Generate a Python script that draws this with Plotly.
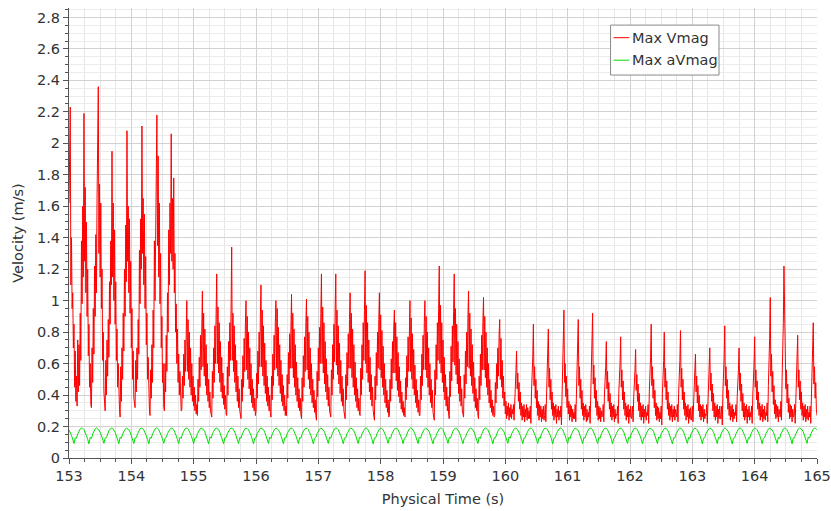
import plotly.graph_objects as go

# ---------------------------------------------------------------------------
# Max Vmag: one sub-list per pulsation cycle, each sampled every 0.01 s
# starting at the cycle's start time listed in vmag_start.
# ---------------------------------------------------------------------------
vmag_dt = 0.01
vmag_start = [
    153.00, 153.13, 153.36, 153.58, 153.82, 154.06, 154.30, 154.53,
    154.81, 155.06, 155.29, 155.53, 155.76, 156.00, 156.24, 156.49,
    156.73, 156.97, 157.20, 157.43, 157.67, 157.90, 158.14, 158.39,
    158.63, 158.86, 159.10, 159.33, 159.57, 159.83,
    160.12, 160.39, 160.63, 160.88, 161.11, 161.34, 161.56, 161.79,
    162.03, 162.28, 162.49, 162.75, 162.99, 163.22, 163.46, 163.69,
    163.94, 164.19, 164.41, 164.63, 164.88,
]
vmag_cycles = [
    [1.62, 1.95, 2.23, 1.10, 1.40, 0.95, 1.05, 0.70, 0.85, 0.45, 0.68, 0.36, 0.52],
    [0.33, 0.75, 0.42, 0.72, 0.46, 0.92, 0.62, 1.38, 0.98, 1.60, 1.15, 2.19, 1.25, 1.72, 1.05, 1.50, 0.90, 1.20, 0.65, 0.85, 0.45, 0.60, 0.34],
    [0.32, 0.70, 0.48, 0.95, 0.66, 1.22, 0.90, 1.42, 1.05, 1.65, 2.02, 2.36, 1.30, 1.74, 1.15, 1.62, 0.95, 1.20, 0.62, 0.80, 0.42, 0.34],
    [0.30, 0.62, 0.40, 0.75, 0.52, 0.88, 0.64, 1.12, 0.85, 1.38, 1.10, 1.95, 1.15, 1.62, 1.00, 1.45, 0.85, 1.12, 0.62, 0.82, 0.45, 0.60, 0.35, 0.31],
    [0.26, 0.58, 0.36, 0.70, 0.50, 0.92, 0.68, 1.20, 0.90, 1.48, 1.12, 2.08, 1.25, 1.60, 1.05, 1.52, 0.92, 1.25, 0.70, 0.95, 0.50, 0.68, 0.38, 0.34],
    [0.32, 0.62, 0.42, 0.70, 0.50, 0.88, 0.66, 1.32, 0.98, 1.52, 1.20, 2.11, 1.30, 1.65, 1.10, 1.55, 0.95, 1.28, 0.72, 0.92, 0.50, 0.64, 0.36, 0.31],
    [0.27, 0.56, 0.38, 0.72, 0.48, 0.94, 0.70, 1.38, 1.00, 1.58, 1.85, 2.18, 1.35, 1.92, 1.15, 1.62, 0.98, 1.30, 0.70, 0.90, 0.48, 0.60, 0.33],
    [0.30, 0.60, 0.42, 0.78, 0.55, 1.05, 0.80, 1.45, 1.10, 1.62, 1.30, 2.06, 1.25, 1.65, 1.20, 1.78, 1.05, 1.30, 0.80, 0.98, 0.60, 0.82, 0.48, 0.66, 0.40, 0.55, 0.34, 0.30],
    [0.31, 0.52, 0.38, 0.66, 0.46, 0.75, 0.55, 0.82, 1.00, 0.55, 0.88, 0.50, 0.80, 0.45, 0.70, 0.40, 0.60, 0.36, 0.52, 0.33, 0.45, 0.30, 0.40, 0.28, 0.34],
    [0.27, 0.50, 0.36, 0.64, 0.45, 0.78, 0.56, 0.88, 1.06, 0.58, 0.92, 0.52, 0.82, 0.46, 0.72, 0.40, 0.60, 0.36, 0.50, 0.32, 0.42, 0.30, 0.28],
    [0.26, 0.55, 0.38, 0.70, 0.48, 0.84, 0.60, 0.92, 1.17, 0.60, 0.96, 0.54, 0.86, 0.48, 0.74, 0.42, 0.64, 0.38, 0.54, 0.34, 0.46, 0.31, 0.40, 0.28],
    [0.27, 0.58, 0.40, 0.74, 0.52, 0.86, 0.62, 0.95, 1.34, 0.62, 0.92, 0.55, 0.84, 0.48, 0.72, 0.42, 0.62, 0.36, 0.52, 0.32, 0.44, 0.30, 0.27],
    [0.25, 0.50, 0.36, 0.65, 0.45, 0.76, 0.55, 0.85, 1.00, 0.56, 0.90, 0.50, 0.80, 0.44, 0.70, 0.40, 0.60, 0.35, 0.50, 0.32, 0.44, 0.30, 0.38, 0.27],
    [0.30, 0.54, 0.38, 0.68, 0.47, 0.80, 0.58, 0.90, 1.10, 0.58, 0.94, 0.52, 0.84, 0.46, 0.73, 0.41, 0.62, 0.36, 0.52, 0.33, 0.45, 0.30, 0.40, 0.29],
    [0.26, 0.52, 0.37, 0.66, 0.46, 0.78, 0.56, 0.86, 1.00, 0.57, 0.95, 0.52, 0.83, 0.46, 0.72, 0.41, 0.62, 0.36, 0.53, 0.33, 0.46, 0.30, 0.40, 0.27, 0.33],
    [0.27, 0.53, 0.38, 0.67, 0.47, 0.79, 0.57, 0.88, 1.04, 0.57, 0.92, 0.51, 0.82, 0.45, 0.72, 0.40, 0.61, 0.36, 0.51, 0.32, 0.44, 0.30, 0.38, 0.28],
    [0.25, 0.51, 0.36, 0.65, 0.45, 0.77, 0.55, 0.86, 1.01, 0.56, 0.90, 0.50, 0.80, 0.44, 0.70, 0.40, 0.60, 0.35, 0.50, 0.32, 0.43, 0.29, 0.37, 0.27],
    [0.24, 0.55, 0.39, 0.70, 0.49, 0.83, 0.60, 0.92, 1.17, 0.60, 0.96, 0.54, 0.86, 0.47, 0.74, 0.42, 0.63, 0.37, 0.53, 0.33, 0.45, 0.30, 0.27],
    [0.26, 0.56, 0.40, 0.72, 0.50, 0.85, 0.61, 0.94, 1.17, 0.59, 0.94, 0.53, 0.84, 0.47, 0.73, 0.41, 0.62, 0.36, 0.52, 0.33, 0.44, 0.30, 0.27],
    [0.25, 0.53, 0.37, 0.67, 0.46, 0.79, 0.57, 0.88, 1.05, 0.57, 0.92, 0.51, 0.82, 0.45, 0.72, 0.40, 0.61, 0.36, 0.51, 0.32, 0.44, 0.30, 0.38, 0.28],
    [0.27, 0.57, 0.40, 0.72, 0.50, 0.86, 0.62, 0.94, 1.19, 0.60, 0.97, 0.54, 0.86, 0.48, 0.75, 0.42, 0.64, 0.37, 0.53, 0.33, 0.45, 0.30, 0.27],
    [0.24, 0.52, 0.37, 0.67, 0.46, 0.80, 0.57, 0.88, 1.05, 0.56, 0.91, 0.51, 0.81, 0.45, 0.71, 0.40, 0.60, 0.35, 0.50, 0.32, 0.43, 0.29, 0.37, 0.26],
    [0.27, 0.50, 0.36, 0.63, 0.44, 0.74, 0.54, 0.82, 0.94, 0.54, 0.86, 0.49, 0.77, 0.43, 0.67, 0.39, 0.58, 0.35, 0.49, 0.31, 0.42, 0.29, 0.36, 0.27, 0.32],
    [0.26, 0.51, 0.37, 0.65, 0.45, 0.77, 0.55, 0.85, 1.00, 0.55, 0.89, 0.50, 0.79, 0.44, 0.69, 0.40, 0.59, 0.35, 0.50, 0.32, 0.43, 0.29, 0.37, 0.27],
    [0.27, 0.52, 0.37, 0.66, 0.46, 0.78, 0.56, 0.86, 1.00, 0.56, 0.90, 0.51, 0.80, 0.45, 0.70, 0.40, 0.60, 0.35, 0.50, 0.32, 0.43, 0.29, 0.26],
    [0.24, 0.56, 0.40, 0.72, 0.50, 0.86, 0.62, 0.95, 1.22, 0.60, 0.97, 0.54, 0.86, 0.48, 0.75, 0.42, 0.64, 0.37, 0.53, 0.33, 0.45, 0.30, 0.39, 0.28],
    [0.25, 0.55, 0.39, 0.71, 0.49, 0.84, 0.61, 0.93, 1.17, 0.59, 0.95, 0.53, 0.85, 0.47, 0.74, 0.41, 0.63, 0.36, 0.52, 0.33, 0.44, 0.30, 0.27],
    [0.26, 0.53, 0.38, 0.68, 0.47, 0.80, 0.58, 0.89, 1.06, 0.57, 0.92, 0.52, 0.82, 0.46, 0.72, 0.41, 0.61, 0.36, 0.51, 0.32, 0.44, 0.30, 0.38, 0.27],
    [0.25, 0.52, 0.37, 0.66, 0.46, 0.78, 0.56, 0.86, 1.02, 0.56, 0.90, 0.51, 0.80, 0.45, 0.70, 0.40, 0.60, 0.35, 0.50, 0.32, 0.43, 0.29, 0.37, 0.27, 0.33, 0.26],
    [0.27, 0.48, 0.35, 0.60, 0.44, 0.70, 0.52, 0.78, 0.88, 0.50, 0.76, 0.45, 0.62, 0.38, 0.52, 0.33, 0.42, 0.28, 0.36, 0.25, 0.33, 0.27, 0.35, 0.24, 0.32, 0.26, 0.34, 0.25, 0.31],
    [0.28, 0.34, 0.24, 0.40, 0.46, 0.55, 0.68, 0.44, 0.54, 0.36, 0.48, 0.31, 0.42, 0.27, 0.35, 0.24, 0.33, 0.26, 0.34, 0.23, 0.31, 0.26, 0.34, 0.24, 0.32, 0.25, 0.30],
    [0.25, 0.33, 0.22, 0.42, 0.50, 0.64, 0.85, 0.46, 0.58, 0.38, 0.50, 0.32, 0.43, 0.27, 0.36, 0.24, 0.34, 0.26, 0.33, 0.23, 0.31, 0.25, 0.33, 0.24],
    [0.27, 0.34, 0.23, 0.41, 0.49, 0.62, 0.82, 0.45, 0.57, 0.37, 0.50, 0.31, 0.42, 0.27, 0.35, 0.24, 0.33, 0.26, 0.34, 0.22, 0.31, 0.26, 0.33, 0.24, 0.30],
    [0.26, 0.33, 0.21, 0.44, 0.52, 0.68, 0.94, 0.48, 0.60, 0.39, 0.52, 0.32, 0.44, 0.28, 0.36, 0.24, 0.34, 0.26, 0.33, 0.23, 0.31, 0.25, 0.29],
    [0.25, 0.34, 0.23, 0.42, 0.50, 0.65, 0.88, 0.46, 0.58, 0.38, 0.50, 0.31, 0.43, 0.27, 0.35, 0.24, 0.33, 0.26, 0.34, 0.23, 0.31, 0.24, 0.29],
    [0.26, 0.33, 0.22, 0.43, 0.52, 0.66, 0.92, 0.47, 0.59, 0.38, 0.51, 0.32, 0.43, 0.27, 0.36, 0.24, 0.33, 0.25, 0.32, 0.23, 0.30, 0.26],
    [0.27, 0.34, 0.23, 0.40, 0.47, 0.58, 0.74, 0.44, 0.55, 0.36, 0.48, 0.31, 0.41, 0.26, 0.35, 0.24, 0.33, 0.26, 0.34, 0.23, 0.31, 0.25, 0.28],
    [0.27, 0.33, 0.22, 0.41, 0.48, 0.60, 0.77, 0.45, 0.56, 0.37, 0.49, 0.31, 0.42, 0.27, 0.35, 0.24, 0.33, 0.26, 0.34, 0.22, 0.31, 0.26, 0.33, 0.25],
    [0.26, 0.33, 0.23, 0.39, 0.46, 0.56, 0.69, 0.43, 0.53, 0.36, 0.47, 0.30, 0.41, 0.26, 0.35, 0.24, 0.33, 0.26, 0.34, 0.22, 0.31, 0.26, 0.33, 0.24, 0.29],
    [0.27, 0.34, 0.22, 0.42, 0.50, 0.64, 0.85, 0.46, 0.58, 0.38, 0.50, 0.32, 0.43, 0.27, 0.35, 0.24, 0.33, 0.25, 0.32, 0.23, 0.29],
    [0.25, 0.33, 0.21, 0.41, 0.49, 0.62, 0.80, 0.45, 0.57, 0.37, 0.49, 0.31, 0.42, 0.27, 0.35, 0.24, 0.33, 0.26, 0.34, 0.23, 0.31, 0.26, 0.33, 0.24, 0.31, 0.26],
    [0.26, 0.34, 0.23, 0.41, 0.49, 0.62, 0.81, 0.45, 0.57, 0.37, 0.50, 0.31, 0.42, 0.27, 0.35, 0.24, 0.33, 0.26, 0.34, 0.22, 0.31, 0.25, 0.32, 0.24],
    [0.26, 0.33, 0.23, 0.38, 0.45, 0.54, 0.66, 0.42, 0.52, 0.35, 0.46, 0.30, 0.40, 0.26, 0.34, 0.24, 0.33, 0.26, 0.34, 0.23, 0.31, 0.25, 0.28],
    [0.27, 0.34, 0.22, 0.39, 0.46, 0.56, 0.70, 0.43, 0.54, 0.36, 0.47, 0.30, 0.41, 0.26, 0.35, 0.24, 0.33, 0.26, 0.34, 0.22, 0.31, 0.25, 0.33, 0.25],
    [0.25, 0.33, 0.21, 0.42, 0.50, 0.63, 0.84, 0.46, 0.58, 0.38, 0.50, 0.31, 0.43, 0.27, 0.35, 0.24, 0.33, 0.26, 0.34, 0.23, 0.31, 0.25, 0.29],
    [0.27, 0.34, 0.23, 0.39, 0.46, 0.56, 0.70, 0.43, 0.54, 0.36, 0.47, 0.30, 0.41, 0.26, 0.35, 0.24, 0.33, 0.26, 0.34, 0.22, 0.31, 0.26, 0.33, 0.24, 0.29],
    [0.26, 0.33, 0.22, 0.40, 0.48, 0.60, 0.77, 0.45, 0.56, 0.37, 0.49, 0.31, 0.42, 0.27, 0.35, 0.24, 0.33, 0.26, 0.34, 0.23, 0.31, 0.25, 0.33, 0.24, 0.29],
    [0.27, 0.35, 0.23, 0.46, 0.58, 0.76, 1.02, 0.52, 0.66, 0.42, 0.55, 0.34, 0.46, 0.28, 0.37, 0.25, 0.34, 0.26, 0.33, 0.23, 0.31, 0.26],
    [0.26, 0.36, 0.24, 0.50, 0.64, 0.86, 1.22, 0.84, 0.58, 0.44, 0.56, 0.35, 0.47, 0.29, 0.38, 0.25, 0.34, 0.26, 0.33, 0.23, 0.31, 0.26],
    [0.27, 0.34, 0.22, 0.41, 0.48, 0.60, 0.78, 0.45, 0.56, 0.37, 0.49, 0.31, 0.42, 0.27, 0.35, 0.24, 0.33, 0.26, 0.34, 0.23, 0.31, 0.25, 0.33, 0.24, 0.29],
    [0.26, 0.33, 0.22, 0.42, 0.50, 0.64, 0.86, 0.47, 0.58, 0.38, 0.48, 0.31, 0.27],
]

# ---------------------------------------------------------------------------
# Max aVmag: sampled every 0.02 s from 153.00 s to 165.00 s.
# ---------------------------------------------------------------------------
avmag_t0 = 153.00
avmag_dt = 0.02
avmag = [
    0.179, 0.164, 0.143, 0.119, 0.092, 0.128, 0.126, 0.154, 0.172, 0.184, 0.190, 0.188,
    0.180, 0.165, 0.142, 0.118, 0.090, 0.131, 0.124, 0.153, 0.171, 0.185, 0.191, 0.187,
    0.178, 0.163, 0.144, 0.120, 0.093, 0.126, 0.129, 0.155, 0.173, 0.184, 0.189, 0.188,
    0.179, 0.164, 0.141, 0.117, 0.091, 0.133, 0.125, 0.152, 0.172, 0.183, 0.190, 0.187,
    0.180, 0.166, 0.143, 0.119, 0.092, 0.127, 0.130, 0.154, 0.171, 0.185, 0.190, 0.188,
    0.178, 0.163, 0.142, 0.118, 0.090, 0.130, 0.126, 0.153, 0.173, 0.184, 0.191, 0.188,
    0.179, 0.165, 0.144, 0.120, 0.093, 0.125, 0.131, 0.155, 0.172, 0.183, 0.189, 0.187,
    0.180, 0.164, 0.141, 0.117, 0.091, 0.132, 0.124, 0.152, 0.171, 0.185, 0.190, 0.188,
    0.178, 0.163, 0.143, 0.119, 0.092, 0.128, 0.128, 0.154, 0.173, 0.184, 0.190, 0.187,
    0.179, 0.166, 0.142, 0.118, 0.090, 0.134, 0.126, 0.153, 0.172, 0.183, 0.191, 0.188,
    0.180, 0.164, 0.143, 0.119, 0.091, 0.127, 0.129, 0.154, 0.171, 0.184, 0.190, 0.188,
    0.178, 0.165, 0.142, 0.118, 0.092, 0.131, 0.125, 0.153, 0.173, 0.185, 0.189, 0.187,
    0.179, 0.163, 0.144, 0.120, 0.090, 0.126, 0.130, 0.155, 0.172, 0.184, 0.191, 0.188,
    0.180, 0.164, 0.141, 0.117, 0.093, 0.133, 0.124, 0.152, 0.171, 0.183, 0.190, 0.187,
    0.178, 0.166, 0.143, 0.119, 0.091, 0.128, 0.127, 0.154, 0.173, 0.185, 0.190, 0.188,
    0.179, 0.163, 0.142, 0.118, 0.092, 0.130, 0.126, 0.153, 0.172, 0.184, 0.189, 0.188,
    0.180, 0.165, 0.144, 0.120, 0.090, 0.125, 0.131, 0.155, 0.171, 0.183, 0.191, 0.187,
    0.178, 0.164, 0.141, 0.117, 0.093, 0.132, 0.125, 0.152, 0.173, 0.185, 0.190, 0.188,
    0.179, 0.163, 0.143, 0.119, 0.091, 0.127, 0.129, 0.154, 0.172, 0.184, 0.190, 0.187,
    0.180, 0.166, 0.142, 0.118, 0.092, 0.134, 0.126, 0.153, 0.171, 0.183, 0.191, 0.188,
    0.178, 0.164, 0.143, 0.119, 0.090, 0.128, 0.128, 0.154, 0.173, 0.184, 0.190, 0.188,
    0.179, 0.165, 0.142, 0.118, 0.093, 0.131, 0.124, 0.153, 0.172, 0.185, 0.189, 0.187,
    0.180, 0.163, 0.144, 0.120, 0.091, 0.126, 0.130, 0.155, 0.171, 0.184, 0.191, 0.188,
    0.178, 0.164, 0.141, 0.117, 0.092, 0.133, 0.125, 0.152, 0.173, 0.183, 0.190, 0.187,
    0.179, 0.166, 0.143, 0.119, 0.090, 0.127, 0.129, 0.154, 0.172, 0.185, 0.190, 0.188,
    0.180, 0.163, 0.142, 0.118, 0.093, 0.130, 0.126, 0.153, 0.171, 0.184, 0.189, 0.188,
    0.178, 0.165, 0.144, 0.120, 0.091, 0.125, 0.131, 0.155, 0.173, 0.183, 0.191, 0.187,
    0.179, 0.164, 0.141, 0.117, 0.092, 0.132, 0.124, 0.152, 0.172, 0.185, 0.190, 0.188,
    0.180, 0.163, 0.143, 0.119, 0.090, 0.128, 0.128, 0.154, 0.171, 0.184, 0.190, 0.187,
    0.178, 0.166, 0.142, 0.118, 0.093, 0.134, 0.126, 0.153, 0.173, 0.183, 0.191, 0.188,
    0.179, 0.164, 0.143, 0.119, 0.091, 0.127, 0.129, 0.154, 0.172, 0.184, 0.190, 0.188,
    0.180, 0.165, 0.142, 0.118, 0.092, 0.131, 0.125, 0.153, 0.171, 0.185, 0.189, 0.187,
    0.178, 0.163, 0.144, 0.120, 0.090, 0.126, 0.130, 0.155, 0.173, 0.184, 0.191, 0.188,
    0.179, 0.164, 0.141, 0.117, 0.093, 0.133, 0.124, 0.152, 0.172, 0.183, 0.190, 0.187,
    0.180, 0.166, 0.143, 0.119, 0.091, 0.128, 0.127, 0.154, 0.171, 0.185, 0.190, 0.188,
    0.178, 0.163, 0.142, 0.118, 0.092, 0.130, 0.126, 0.153, 0.173, 0.184, 0.189, 0.188,
    0.179, 0.165, 0.144, 0.120, 0.090, 0.125, 0.131, 0.155, 0.172, 0.183, 0.191, 0.187,
    0.180, 0.164, 0.141, 0.117, 0.093, 0.132, 0.125, 0.152, 0.171, 0.185, 0.190, 0.188,
    0.178, 0.163, 0.143, 0.119, 0.091, 0.127, 0.129, 0.154, 0.173, 0.184, 0.190, 0.187,
    0.179, 0.166, 0.142, 0.118, 0.092, 0.134, 0.126, 0.153, 0.172, 0.183, 0.191, 0.188,
    0.180, 0.164, 0.143, 0.119, 0.090, 0.128, 0.128, 0.154, 0.171, 0.184, 0.190, 0.188,
    0.178, 0.165, 0.142, 0.118, 0.093, 0.131, 0.124, 0.153, 0.173, 0.185, 0.189, 0.187,
    0.179, 0.163, 0.144, 0.120, 0.091, 0.126, 0.130, 0.155, 0.172, 0.184, 0.191, 0.188,
    0.180, 0.164, 0.141, 0.117, 0.092, 0.133, 0.125, 0.152, 0.171, 0.183, 0.190, 0.187,
    0.178, 0.166, 0.143, 0.119, 0.090, 0.127, 0.129, 0.154, 0.173, 0.185, 0.190, 0.188,
    0.179, 0.163, 0.142, 0.118, 0.093, 0.130, 0.126, 0.153, 0.172, 0.184, 0.189, 0.188,
    0.180, 0.165, 0.144, 0.120, 0.091, 0.125, 0.131, 0.155, 0.171, 0.183, 0.191, 0.187,
    0.178, 0.164, 0.141, 0.117, 0.092, 0.132, 0.124, 0.152, 0.173, 0.185, 0.190, 0.188,
    0.179, 0.163, 0.143, 0.119, 0.090, 0.128, 0.128, 0.154, 0.172, 0.184, 0.190, 0.187,
    0.180, 0.166, 0.142, 0.118, 0.093, 0.134, 0.126, 0.153, 0.171, 0.183, 0.191, 0.188,
    0.179,
]

series_names = ["Max Vmag", "Max aVmag"]
series_colors = ["#ff0000", "#00dd00"]
x_title = "Physical Time (s)"
y_title = "Velocity (m/s)"
x_range = [153, 165]
y_range = [0, 2.86]

# Expand the cycle lists into (time, value) pairs
vmag_t, vmag_v = [], []
for t0, cycle in zip(vmag_start, vmag_cycles):
    for k, v in enumerate(cycle):
        vmag_t.append(round(t0 + k * vmag_dt, 4))
        vmag_v.append(v)

avmag_t = [round(avmag_t0 + i * avmag_dt, 4) for i in range(len(avmag))]

FONT = "DejaVu Sans, Verdana, sans-serif"
FS = 14.5
TXT = "#333333"

fig = go.Figure()
fig.add_trace(go.Scatter(x=vmag_t, y=vmag_v, mode="lines", name=series_names[0],
                         line=dict(color=series_colors[0], width=1), showlegend=False))
fig.add_trace(go.Scatter(x=avmag_t, y=avmag, mode="lines", name=series_names[1],
                         line=dict(color=series_colors[1], width=1), showlegend=False))

axis_common = dict(
    showline=True, linecolor="#555555", linewidth=1,
    ticks="outside", tickcolor="#555555", ticklen=5, tickwidth=1,
    zeroline=False, showgrid=True, gridcolor="#d2d2d2", gridwidth=1,
    tickfont=dict(family=FONT, size=FS, color=TXT),
    automargin=False,
)

fig.update_xaxes(
    range=x_range, dtick=1, tick0=153,
    minor=dict(dtick=0.25, ticklen=3, tickcolor="#555555", showgrid=True,
               gridcolor="#e6e6e6", gridwidth=1),
    title=dict(text=x_title, font=dict(family=FONT, size=FS, color=TXT), standoff=10),
    **axis_common,
)
fig.update_yaxes(
    range=y_range, dtick=0.2, tick0=0,
    minor=dict(dtick=0.05, ticklen=3, tickcolor="#555555", showgrid=True,
               gridcolor="#ebebeb", gridwidth=1),
    title=dict(text=y_title, font=dict(family=FONT, size=FS, color=TXT), standoff=9),
    **axis_common,
)

# Legend box drawn in paper coordinates
box_x0, box_x1, box_y0, box_y1 = 0.724, 0.869, 0.851, 0.962
rows_y = [0.934, 0.884]
shapes = [dict(type="rect", xref="paper", yref="paper", x0=box_x0, x1=box_x1,
               y0=box_y0, y1=box_y1, line=dict(color="#8a8a8a", width=1),
               fillcolor="white", layer="above")]
annotations = []
for name, color, yy in zip(series_names, series_colors, rows_y):
    shapes.append(dict(type="line", xref="paper", yref="paper", x0=0.728, x1=0.749,
                       y0=yy, y1=yy, line=dict(color=color, width=1), layer="above"))
    annotations.append(dict(xref="paper", yref="paper", x=0.750, y=yy, text=name,
                            showarrow=False, xanchor="left", yanchor="middle",
                            font=dict(family=FONT, size=FS, color=TXT)))

fig.update_layout(
    width=831, height=511,
    margin=dict(l=69, r=14, t=8, b=53),
    paper_bgcolor="white", plot_bgcolor="white",
    shapes=shapes, annotations=annotations,
    showlegend=False,
)

fig.write_html("out.html")
